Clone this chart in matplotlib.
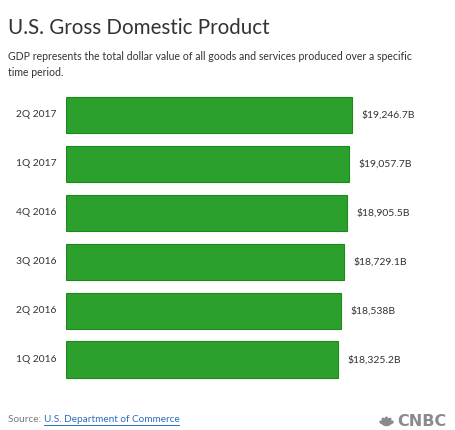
import math

import matplotlib.pyplot as plt
from matplotlib.patches import Ellipse

plt.rcParams['font.family'] = ['Lato', 'DejaVu Sans']

quarters = ['2Q 2017', '1Q 2017', '4Q 2016', '3Q 2016', '2Q 2016', '1Q 2016']
gdp = [19246.7, 19057.7, 18905.5, 18729.1, 18538.0, 18325.2]
value_labels = ['$19,246.7B', '$19,057.7B', '$18,905.5B', '$18,729.1B', '$18,538B', '$18,325.2B']

W, H = 455, 430
fig = plt.figure(figsize=(W / 100, H / 100), dpi=100)
fig.patch.set_facecolor('white')

# axes placed in pixel terms
ax = fig.add_axes([66 / W, (H - 385) / H, (W - 66) / W, 295 / H])
pos = list(range(len(quarters)))
ax.barh(pos, gdp, height=0.74, color='#2ca02c', edgecolor='#1a8a1a', linewidth=0.8)
ax.set_xlim(0, 26200)
ax.set_ylim(5.52, -0.51)
ax.axis('off')

for p, v, lab, q in zip(pos, gdp, value_labels, quarters):
    ax.annotate(lab, (v, p), xytext=(7, 0), textcoords='offset points',
                va='center', ha='left', fontsize=7.5, color='#333333')
    ax.annotate(q, (0, p), xytext=(-7, 0), textcoords='offset points',
                va='center', ha='right', fontsize=7.4, color='#333333')

fig.text(8 / W, 1 - 28 / H, 'U.S. Gross Domestic Product', fontsize=14.8,
         color='#333333', va='center', ha='left')
fig.text(8 / W, 1 - 57 / H,
         'GDP represents the total dollar value of all goods and services produced over a specific',
         fontsize=7.6, color='#333333', va='center', ha='left')
fig.text(8 / W, 1 - 72 / H, 'time period.', fontsize=7.6, color='#333333', va='center', ha='left')

src = fig.text(8 / W, 1 - 420 / H, 'Source: ', fontsize=7.2, color='#777777', va='center', ha='left')
fig.canvas.draw()
bb = src.get_window_extent()
link = fig.text(bb.x1 / W, 1 - 420 / H, 'U.S. Department of Commerce', fontsize=7.2,
                color='#2a6ebb', va='center', ha='left')
fig.canvas.draw()
lb = link.get_window_extent()
fig.lines.append(plt.Line2D([lb.x0 / W, lb.x1 / W], [(lb.y0 - 0.5) / H] * 2,
                            transform=fig.transFigure, color='#2a6ebb', linewidth=0.7))

# CNBC mark: small feather fan + wordmark
fig.patches.append(Ellipse((386.5 / W, (H - 424) / H), 7 / W, 3 / H,
                           transform=fig.transFigure, color='#8a8a8a'))
for ang in [160, 125, 90, 55, 20]:
    cx = 386.5 + 4 * math.cos(math.radians(ang))
    cy = (H - 424) + 4 * math.sin(math.radians(ang))
    fig.patches.append(Ellipse((cx / W, cy / H), 2.6 / W, 5.5 / H, angle=ang - 90,
                               transform=fig.transFigure, color='#8a8a8a'))
fig.text(447 / W, 1 - 421 / H, 'CNBC', fontsize=11.5, fontweight='bold', color='#8a8a8a',
         va='center', ha='right', family=['DejaVu Sans'])

fig.savefig('out.png', dpi=100, facecolor='white')
